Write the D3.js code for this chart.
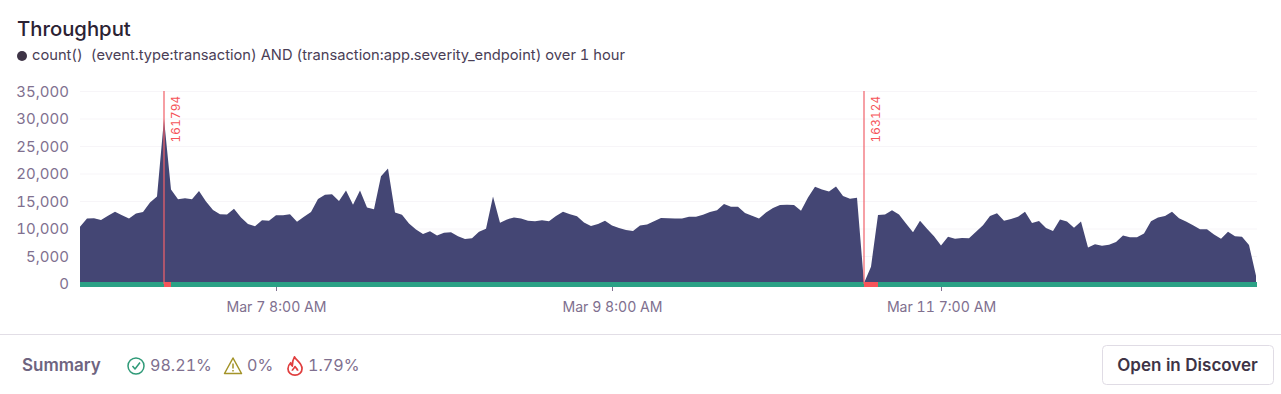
<!DOCTYPE html>
<html>
<head>
<meta charset="utf-8">
<script src="https://cdn.jsdelivr.net/npm/d3@7/dist/d3.min.js"></script>
<style>
html,body{margin:0;padding:0;background:#fff;overflow:hidden}
svg{display:block}
text{font-family:Inter,"Open Sans",sans-serif;font-variant-numeric:tabular-nums}
</style>
</head>
<body>
<svg id="chart" width="1281" height="394"></svg>
<script>
const startTime = Date.UTC(2021, 2, 6, 4);
const hourMs = 3600000;
const throughput = [
10400,11900,11950,11650,12400,13150,12500,11900,12800,13100,14800,15900,30000,17200,15400,15600,15400,16900,15000,13450,
12700,12650,13700,12100,10900,10500,11600,11500,12500,12500,12700,11300,12250,13100,15450,16250,16300,15100,17000,14400,
17000,13900,13600,19600,21000,13000,12600,11000,9900,9100,9600,8800,9300,9400,8700,8200,8300,9500,10050,15900,
11150,11750,12100,11900,11500,11400,11600,11400,12350,13150,12700,12300,11200,10550,10900,11500,10650,10200,9800,9650,
10650,10800,11400,12000,11950,11900,11900,12250,12250,12600,13100,13400,14550,14050,14050,12900,12400,11900,13000,13800,
14350,14400,14350,13300,15750,17700,17200,16800,17750,16000,15500,15700,200,3150,12550,12650,13400,12650,11000,9400,
11500,10050,8700,7000,8600,8250,8350,8300,9500,10700,12350,12850,11500,11800,12250,13150,11100,11450,10200,9650,
11750,11350,10250,11350,6650,7250,6950,7150,7650,8800,8500,8500,9200,11400,12100,12350,13150,11950,11350,10700,
9950,9950,9000,8250,9500,8700,8600,7100,1500
];
const yTicks = [0,5000,10000,15000,20000,25000,30000,35000];
const xTicks = [
  {t: Date.UTC(2021,2,7,8), label: "Mar 7 8:00 AM"},
  {t: Date.UTC(2021,2,9,8), label: "Mar 9 8:00 AM"},
  {t: Date.UTC(2021,2,11,7), label: "Mar 11 7:00 AM"}
];
const releaseLabels = ["161794","163124"];
const releaseStarts = [12,112];
const releaseEnds = [13,114];
const releaseWidths = [1.7,1.2];
const releaseOpacity = [0.72,1];
const releases = releaseLabels.map((label,i)=>({
  label, t:startTime+releaseStarts[i]*hourMs, end:startTime+releaseEnds[i]*hourMs, w:releaseWidths[i], op:releaseOpacity[i]
}));
const summaryValues = ["98.21%","0%","1.79%"];

const svg = d3.select("#chart");
const x = d3.scaleTime().domain([startTime, startTime + 168*hourMs]).range([80, 1256]);
const y = d3.scaleLinear().domain([0, 35000]).range([284, 91.5]);

const ink = "#2b2233", muted = "#80708f", navy = "#444674", green = "#2ba185", red = "#f55459";

svg.append("text").attr("x",17).attr("y",36).attr("font-size",20.3).attr("font-weight",500).attr("fill",ink).text("Throughput");
svg.append("circle").attr("cx",22).attr("cy",56).attr("r",5).attr("fill","#3e3446");
svg.append("text").attr("x",32).attr("y",60).attr("font-size",14.7).attr("fill","#4a3e56").attr("xml:space","preserve")
  .text("count()  (event.type:transaction) AND (transaction:app.severity_endpoint) over 1 hour");

// grid
svg.append("g").selectAll("line").data(yTicks.slice(1)).join("line")
  .attr("x1",80).attr("x2",1257).attr("y1",d=>y(d)).attr("y2",d=>y(d))
  .attr("stroke","#f7f5f8").attr("stroke-width",1);

// y axis labels
const yAxis = d3.axisLeft(y).tickValues(yTicks).tickSize(0).tickPadding(0).tickFormat(d3.format(","));
const gy = svg.append("g").attr("transform","translate(69,0)").call(yAxis);
gy.select(".domain").remove();
gy.selectAll("text").attr("font-size",15).attr("fill",muted).style("font-family","Inter,sans-serif");

// area
const area = d3.area().x((d,i)=>x(startTime+i*hourMs)).y0(y(0)).y1(d=>y(d)).curve(d3.curveLinear);
svg.append("path").datum(throughput).attr("d",area).attr("fill",navy);

// status band
svg.append("rect").attr("x",80).attr("y",282).attr("width",1177).attr("height",5).attr("fill",green);
svg.append("g").selectAll("rect").data(releases).join("rect")
  .attr("x",d=>x(d.t)).attr("y",282).attr("width",d=>x(d.end)-x(d.t)).attr("height",5).attr("fill",red);

// release lines
const rel = svg.append("g").selectAll("g").data(releases).join("g");
rel.append("line").attr("x1",d=>x(d.t)).attr("x2",d=>x(d.t)).attr("y1",91).attr("y2",284)
  .attr("stroke","#f0616a").attr("stroke-width",d=>d.w).attr("stroke-opacity",d=>d.op);
rel.append("text").attr("transform",d=>`translate(${x(d.t)+16},142.5) rotate(-90)`)
  .attr("font-size",11.6).attr("letter-spacing",0.3).attr("fill",red).text(d=>d.label);

// x axis
const xAxis = d3.axisBottom(x).tickValues(xTicks.map(d=>d.t)).tickSize(4).tickPadding(11)
  .tickFormat(t=>xTicks.find(d=>d.t===+t).label);
const gx = svg.append("g").attr("transform","translate(0,287)").call(xAxis);
gx.select(".domain").remove();
gx.selectAll("line").attr("stroke","#80708f");
gx.selectAll("text").attr("font-size",14.1).attr("fill",muted).style("font-family","Inter,sans-serif");

// footer
svg.append("line").attr("x1",0).attr("x2",1281).attr("y1",334.5).attr("y2",334.5).attr("stroke","#e2dee6");
svg.append("text").attr("x",22).attr("y",371).attr("font-size",17).attr("font-weight",600).attr("fill","#6e6480").text("Summary");

const positions = [150,247,308];
svg.append("g").selectAll("text").data(summaryValues).join("text")
  .attr("x",(d,i)=>positions[i]).attr("y",371).attr("font-size",16.1).attr("fill",muted).text(d=>d);

// ok icon
const ok = svg.append("g").attr("transform","translate(136,366)").attr("fill","none").attr("stroke","#2f9a78").attr("stroke-width",1.5);
ok.append("circle").attr("r",8);
ok.append("path").attr("d","M-3.5,0 L-1,3 L4,-3.5").attr("stroke-linejoin","round");
// warn icon
const wn = svg.append("g").attr("transform","translate(233,366)").attr("fill","none").attr("stroke","#a39328").attr("stroke-width",1.5);
wn.append("path").attr("d","M0,-8 L8.5,7.5 L-8.5,7.5 Z").attr("stroke-linejoin","round");
wn.append("path").attr("d","M0,-2.5 L0,2.5 M0,4 L0,5.5");
// flame icon
svg.append("path").attr("transform","translate(295,366) scale(1.08)").attr("fill","none").attr("stroke","#e03e3e").attr("stroke-width",1.6).attr("stroke-linejoin","round")
  .attr("d","M-0.5,-8.5 C1,-5 6.5,-3 6.5,2.5 C6.5,6 3.5,8.5 0,8.5 C-3.5,8.5 -6.5,6 -6.5,2.5 C-6.5,0 -5,-2 -4,-3 C-4,-1.5 -3.5,-0.5 -2.5,0 C-2.5,-3 -2,-6 -0.5,-8.5 Z M-2.5,4.5 C-2.5,3 -0.5,2 0,0.5 C1.5,2 2.5,3 2.5,4.5");

// button
svg.append("rect").attr("x",1102.5).attr("y",345.5).attr("width",171).attr("height",39).attr("rx",4)
  .attr("fill","#fff").attr("stroke","#e0dce5");
svg.append("text").attr("x",1187.5).attr("y",371).attr("text-anchor","middle").attr("font-size",17).attr("font-weight",600)
  .attr("fill","#3e3446").text("Open in Discover");
</script>
</body>
</html>
